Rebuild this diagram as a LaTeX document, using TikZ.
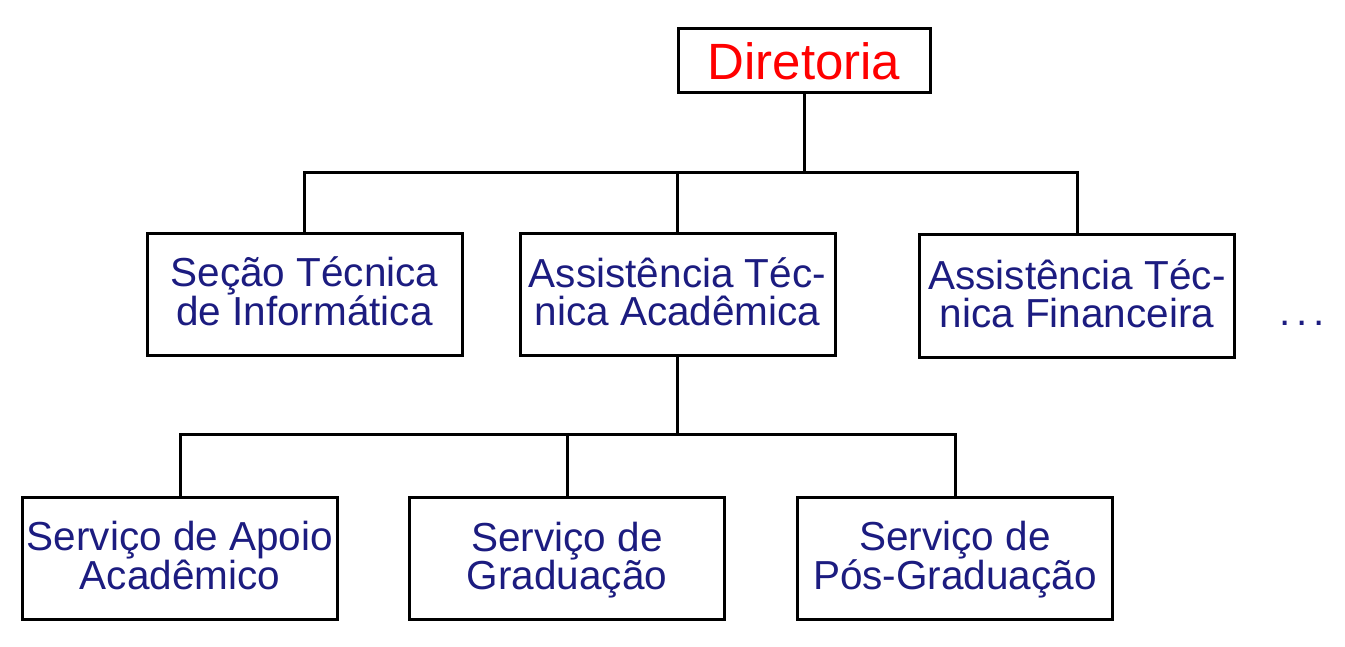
\documentclass[tikz,border=0pt]{standalone}
\usepackage{fontspec}
\setmainfont{Liberation Sans}
\definecolor{navytext}{RGB}{28,28,128}
\begin{document}
\begin{tikzpicture}[x=1pt,y=-1pt]
\useasboundingbox[fill=white] (0,0) rectangle (1345,647);
\tikzset{
  unit/.style={draw, line width=3pt, fill=white, minimum width=315pt, minimum height=122pt,
    align=center, font=\fontsize{40.5}{38}\selectfont, text=navytext, inner sep=0pt,
    text height=73pt, text depth=10pt},
  link/.style={line width=3pt}
}
\node[draw, line width=3pt, minimum width=252pt, minimum height=64pt, inner sep=0pt,
  text=red, font=\fontsize{51}{51}\selectfont] (dir) at (804,61) {Diretoria};
\node[unit] (sec) at (304.5,294.5) {Seção Técnica\\de Informática};
\node[unit] (ata) at (677.5,294.5) {Assistência Téc-\\nica Acadêmica};
\node[unit] (atf) at (1077,296) {Assistência Téc-\\nica Financeira};
\node[text=navytext, font=\fontsize{40.5}{36}\selectfont, inner sep=0pt, anchor=base] (dots) at (1302,326) {.\kern6pt.\kern6pt.};
\node[unit] (sap) at (180,558) {Serviço de Apoio\\Acadêmico};
\node[unit] (sg) at (567,558) {Serviço de\\Graduação};
\node[unit] (spg) at (955,558) {Serviço de\\Pós-Graduação};
\coordinate (b1) at (804,173);
\coordinate (b2) at (677.5,434);
\draw[link] (dir.south) -- (b1);
\draw[link] (sec.north) |- (b1) -| (atf.north);
\draw[link] (b1 -| ata.north) -- (ata.north);
\draw[link] (ata.south) -- (b2);
\draw[link] (sap.north) |- (b2) -| (spg.north);
\draw[link] (b2 -| sg.north) -- (sg.north);
\end{tikzpicture}
\end{document}
